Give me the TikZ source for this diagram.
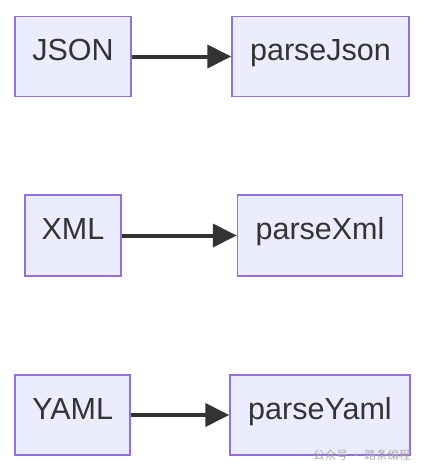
\documentclass[tikz,border=0pt]{standalone}
\usepackage{fontspec}
\setmainfont{Liberation Sans}
\newfontfamily\cjk{Noto Sans CJK SC}
\usetikzlibrary{arrows.meta}
\definecolor{boxfill}{HTML}{ECECFF}
\definecolor{boxline}{HTML}{9370DB}
\definecolor{ink}{HTML}{333333}
\definecolor{mark}{HTML}{AAAAAA}

\begin{document}
\begin{tikzpicture}[x=1pt, y=-1pt,
  item/.style={draw=boxline, fill=boxfill, line width=1.5pt, text=ink, inner sep=0pt,
    text height=16.5pt, text depth=8pt, minimum height=80pt, font=\fontsize{30.5}{36}\selectfont},
  flow/.style={draw=ink, line width=4pt, -{Triangle[length=24pt, width=23pt]}}]
\useasboundingbox (0,0) rectangle (426,472);
\node[item, minimum width=116pt] (json) at (73,56.5) {JSON};
\node[item, minimum width=177pt] (parsejson) at (320.5,56.5) {parseJson};
\node[item, minimum width=96pt, minimum height=81pt] (xml) at (73,235.5) {XML};
\node[item, minimum width=165pt, minimum height=81pt] (parsexml) at (320,235.5) {parseXml};
\node[item, minimum width=115pt] (yaml) at (72.7,415) {YAML};
\node[item, minimum width=180pt] (parseyaml) at (320,415) {parseYaml};
\draw[flow] (json) -- (parsejson);
\draw[flow] (xml) -- (parsexml);
\draw[flow] (yaml) -- (parseyaml);
\node[text=mark, font=\cjk\fontsize{11.5}{13}\selectfont, inner sep=0pt] (watermark) at (362,455) {公众号 · 路条编程};
\end{tikzpicture}
\end{document}
